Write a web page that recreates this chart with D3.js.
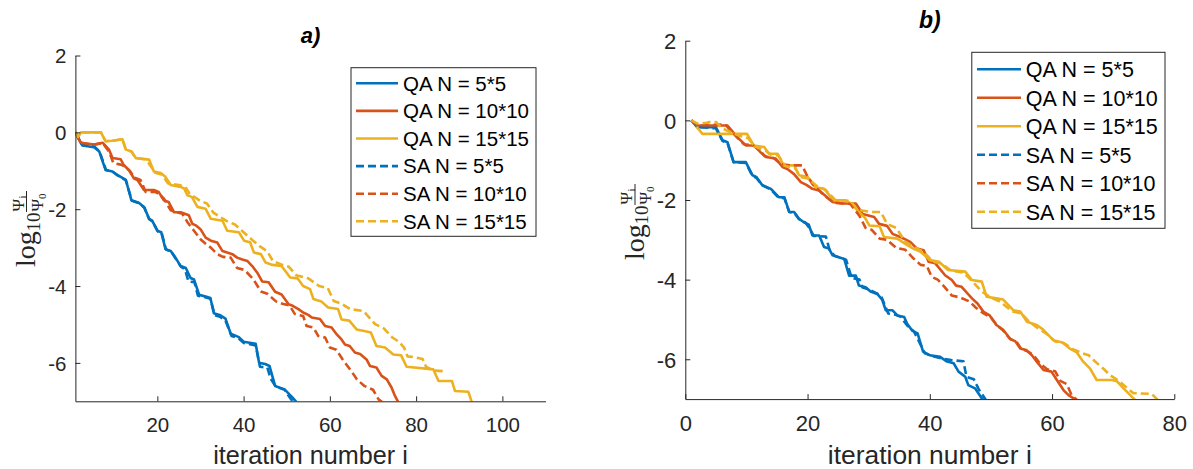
<!DOCTYPE html>
<html><head><meta charset="utf-8">
<script src="https://cdn.jsdelivr.net/npm/d3@7"></script>
<style>body{margin:0;background:#fff}svg{display:block}</style>
</head><body><svg id="c" width="1193" height="469"></svg>
<script>
// ---------- data ----------
const seriesNames = ["QA N = 5*5","QA N = 10*10","QA N = 15*15","SA N = 5*5","SA N = 10*10","SA N = 15*15"];
const seriesColors = ["#0072BD","#D95319","#EDB120","#0072BD","#D95319","#EDB120"];
const seriesDashed = [false,false,false,true,true,true];
const panelTitles = ["a)","b)"];
const xLabel = "iteration number i";
const yTicks = [-6,-4,-2,0,2];
const yTickLabels = ["-6","-4","-2","0","2"];
const aXTicks = [20,40,60,80,100];
const aXTickLabels = ["20","40","60","80","100"];
const bXTicks = [0,20,40,60,80];
const bXTickLabels = ["0","20","40","60","80"];

// panel a) : [iteration, log10(psi_i/psi_0)]
const aQA5 = [[1,0],[2.6,-0.34],[5.3,-0.39],[6.5,-0.49],[8,-0.98],[9.6,-1.02],[10.7,-1.11],[12.7,-1.24],[14,-1.77],[15.7,-1.83],[16.9,-1.94],[18.1,-2.25],[18.8,-2.3],[20,-2.56],[20.9,-2.6],[21.9,-3.04],[23.1,-3.09],[24.2,-3.26],[25.4,-3.48],[26.6,-3.53],[27.7,-3.79],[28.5,-3.83],[29.7,-4.23],[31.2,-4.27],[32.3,-4.31],[33.1,-4.71],[34.6,-4.76],[35.8,-4.85],[37,-5.24],[38.9,-5.33],[40,-5.45],[42.8,-5.5],[43.6,-6.0],[45,-6.03],[46,-6.08],[47.3,-6.6],[49.5,-6.69],[51.3,-6.9],[52.5,-7.05]];
const aQA10 = [[1,0],[2.2,-0.27],[5.3,-0.32],[7.3,-0.27],[8.8,-0.45],[9.6,-0.67],[11.5,-0.7],[12.2,-0.85],[13.4,-0.98],[14.6,-1.2],[15.4,-1.24],[16.9,-1.5],[19.2,-1.5],[20.3,-1.55],[21.5,-1.77],[22.6,-1.81],[23.9,-2.08],[25.4,-2.08],[27.3,-2.16],[28.1,-2.38],[28.9,-2.42],[30,-2.52],[31.2,-2.74],[32.4,-2.82],[33.9,-2.87],[35.1,-3.09],[36.2,-3.13],[37.4,-3.17],[38.5,-3.26],[39.7,-3.31],[40.9,-3.35],[42,-3.48],[43.2,-3.66],[44.3,-3.88],[45.8,-3.9],[47.3,-4.15],[48.8,-4.22],[50.4,-4.47],[51.5,-4.52],[52.7,-4.6],[53.8,-4.69],[55,-4.75],[55.8,-4.82],[57.7,-4.86],[58.9,-5.04],[60.4,-5.08],[61.6,-5.26],[62.7,-5.39],[63.5,-5.52],[64.6,-5.56],[65.8,-5.73],[67,-5.77],[68.5,-5.91],[69.3,-6.08],[70.8,-6.12],[72,-6.34],[73.2,-6.43],[74.3,-6.64],[75.1,-6.86],[76,-7.05]];
const aQA15 = [[1,0],[1.6,-0.12],[2.3,0],[6.9,0],[8,-0.23],[9.5,-0.22],[11.9,-0.18],[12.7,-0.45],[14,-0.5],[15,-0.67],[18.1,-0.71],[19.2,-1.02],[20.8,-1.06],[21.8,-1.15],[23.1,-1.37],[25.4,-1.42],[26.2,-1.46],[27,-1.64],[28,-1.68],[29.3,-1.94],[31.2,-1.99],[32.4,-2.25],[35.1,-2.3],[36.2,-2.56],[38.9,-2.6],[40.1,-2.82],[41.5,-2.86],[42.4,-3.13],[44,-3.17],[45.1,-3.39],[46.7,-3.45],[48.8,-3.48],[50.8,-3.78],[52.5,-3.8],[53.8,-4.0],[55.4,-4.08],[56.2,-4.34],[58,-4.4],[59.6,-4.56],[61.9,-4.6],[62.7,-4.87],[64.5,-4.9],[66.2,-5.13],[68,-5.17],[69.5,-5.21],[70.8,-5.56],[72.8,-5.6],[74.7,-5.78],[76.5,-5.8],[77.8,-6.1],[84,-6.17],[85.2,-6.47],[88.3,-6.47],[89,-6.73],[92.1,-6.75],[93,-7.05]];
const aSA5 = [[1,0],[2.4,-0.3],[5.3,-0.36],[6.6,-0.5],[8.1,-0.98],[9.6,-1.02],[10.8,-1.12],[12.7,-1.25],[14.1,-1.78],[15.7,-1.84],[17,-1.96],[18.1,-2.26],[18.9,-2.32],[20.1,-2.58],[21,-2.62],[22,-3.05],[23.2,-3.1],[24.2,-3.28],[25.5,-3.5],[26.4,-3.56],[27.2,-3.88],[28.6,-3.9],[29.4,-4.25],[31.3,-4.3],[32.3,-4.33],[33.3,-4.76],[34.5,-4.8],[35.8,-4.9],[37.2,-5.3],[38.8,-5.36],[40,-5.48],[42.8,-5.55],[43.8,-6.1],[45.5,-6.12],[46.3,-6.42],[47.5,-6.62],[49.5,-6.7],[51,-6.95],[52,-7.05]];
const aSA10 = [[1,0],[2.2,-0.27],[5.3,-0.32],[7.3,-0.28],[8.8,-0.5],[9.8,-0.8],[11.5,-0.84],[12.3,-0.88],[13.6,-1.0],[14.7,-1.18],[16.1,-1.24],[17.3,-1.55],[19.5,-1.55],[20.3,-1.6],[21.5,-1.72],[23.1,-2.03],[24.2,-2.07],[25.8,-2.12],[27,-2.34],[28.5,-2.56],[30,-2.78],[31.2,-2.9],[32.4,-3.0],[33.9,-3.17],[35.2,-3.24],[37,-3.26],[38.5,-3.53],[40.2,-3.58],[42,-3.79],[42.8,-3.92],[44,-4.14],[45.5,-4.2],[47.5,-4.4],[49.2,-4.47],[50.6,-4.5],[51.9,-4.73],[53.8,-4.78],[54.6,-5.04],[56.2,-5.08],[57.3,-5.3],[58.9,-5.34],[60,-5.6],[61.5,-5.66],[62.9,-5.9],[64.7,-6.17],[66.3,-6.43],[68,-6.6],[70,-6.7],[71.3,-6.95],[72.5,-7.05]];
const aSA15 = [[1,0],[1.6,-0.12],[2.3,0],[6.9,0],[8,-0.23],[9.5,-0.22],[11.9,-0.18],[12.7,-0.45],[14,-0.5],[15,-0.67],[17,-0.7],[17.9,-0.79],[19.5,-1.05],[21,-1.1],[22.5,-1.33],[25,-1.37],[26.5,-1.42],[27.5,-1.6],[29.9,-1.78],[31.5,-1.85],[33,-2.09],[36.1,-2.31],[38,-2.4],[40,-2.6],[42,-2.8],[43.7,-2.96],[45.5,-3.1],[46.8,-3.35],[49,-3.45],[50.5,-3.5],[52.2,-3.72],[55,-3.8],[57.5,-4.0],[59.5,-4.05],[60.9,-4.39],[62.5,-4.45],[64.7,-4.6],[67.8,-4.65],[70.5,-4.99],[72.5,-5.1],[74.5,-5.34],[76,-5.45],[77.2,-5.6],[78,-5.83],[80,-5.86],[81.5,-5.9],[82.3,-6.1],[84,-6.2],[87,-6.22]];

// panel b)
const bQA5 = [[1,0],[2,-0.17],[5,-0.17],[6.1,-0.5],[6.9,-0.55],[7.9,-1.05],[9.9,-1.05],[11,-1.38],[11.6,-1.42],[12.6,-1.63],[14,-1.72],[15.3,-1.93],[16.2,-1.93],[17,-2.3],[17.8,-2.3],[18.6,-2.47],[19.4,-2.56],[20.2,-2.62],[20.8,-2.89],[21.9,-2.89],[22.7,-3.18],[23.5,-3.22],[24.1,-3.39],[26,-3.48],[26.8,-3.9],[27.9,-3.9],[28.4,-4.15],[29.5,-4.19],[30.3,-4.3],[31.4,-4.36],[32.2,-4.5],[32.8,-4.77],[33.9,-4.77],[34.7,-4.9],[35.8,-4.94],[36.3,-5.11],[37.1,-5.28],[38,-5.35],[38.9,-5.81],[40,-5.9],[41.7,-5.94],[42.7,-6.05],[43.9,-6.1],[44.7,-6.31],[45.8,-6.44],[46.3,-6.65],[47.4,-6.73],[48.5,-6.98],[49,-7.05]];
const bQA10 = [[1,0],[2,-0.13],[6.9,-0.13],[8.5,-0.42],[9.9,-0.63],[11.2,-0.63],[12.3,-0.8],[13.2,-0.92],[14.8,-0.96],[15.9,-1.17],[16.7,-1.22],[17.8,-1.35],[18.9,-1.55],[19.8,-1.62],[20.8,-1.72],[21.9,-1.76],[23.2,-1.93],[24.1,-2.05],[25.7,-2.09],[27.9,-2.09],[29,-2.35],[30.9,-2.43],[31.7,-2.6],[33,-2.65],[33.9,-2.85],[35.2,-2.93],[36.8,-3.05],[37.9,-3.22],[39,-3.26],[39.8,-3.55],[40.9,-3.59],[42.5,-3.89],[43.6,-4.01],[44.3,-4.15],[45.2,-4.18],[46.9,-4.47],[47.8,-4.6],[48.8,-4.81],[49.8,-4.9],[50.9,-5.14],[52,-5.26],[53.1,-5.48],[54,-5.55],[54.8,-5.73],[55.8,-5.77],[56.7,-5.9],[57.5,-6.06],[58.6,-6.27],[59.9,-6.31],[61,-6.57],[61.9,-6.78],[62.7,-6.9],[63.5,-6.98],[64,-7.05]];
const bQA15 = [[1,0],[2.8,-0.34],[6.9,-0.34],[8.8,-0.34],[10.1,-0.34],[11.2,-0.63],[12.9,-0.67],[13.7,-0.84],[15.1,-0.84],[16.1,-1.13],[17.8,-1.13],[18.6,-1.38],[20,-1.42],[21.3,-1.68],[22.7,-1.72],[24.3,-2.01],[26.2,-2.01],[27.2,-2.1],[28.4,-2.3],[29.4,-2.45],[30.1,-2.64],[31.8,-2.66],[32.5,-2.93],[34.7,-2.97],[36,-3.1],[37.3,-3.22],[38.5,-3.3],[40,-3.51],[41.5,-3.55],[43,-3.76],[45.8,-3.8],[46.9,-4.01],[48.5,-4.05],[49.3,-4.43],[50.9,-4.47],[52,-4.5],[53.7,-4.77],[54.8,-4.8],[55.9,-5.06],[57.5,-5.14],[58.5,-5.25],[60.2,-5.52],[61.7,-5.58],[62.9,-5.73],[64,-5.82],[65.1,-6.06],[66.2,-6.23],[67.3,-6.52],[69.8,-6.52],[70.6,-6.55],[71.7,-6.73],[72.8,-6.9],[73.3,-6.98],[73.8,-7.05]];
const bSA5 = [[1,0],[2,-0.17],[5,-0.2],[6.1,-0.52],[6.9,-0.57],[7.9,-1.05],[9.9,-1.07],[11,-1.4],[11.6,-1.44],[12.6,-1.63],[14,-1.74],[15.3,-1.95],[16.2,-1.95],[17,-2.3],[17.8,-2.32],[18.6,-2.48],[19.6,-2.56],[20.3,-2.7],[21,-2.9],[23,-2.92],[23.6,-3.25],[24.4,-3.4],[26.3,-3.5],[27.2,-3.95],[28.5,-4.0],[29,-4.2],[30,-4.24],[31,-4.32],[32,-4.4],[33.2,-4.85],[34.4,-4.88],[35.2,-4.93],[36.3,-5.15],[37.4,-5.3],[39.2,-5.85],[40.5,-5.92],[42,-5.98],[43.5,-6.02],[45.5,-6.05],[46,-6.44],[47.2,-6.5],[48,-6.75],[49.3,-7.05]];
const bSA10 = [[1,0],[2,-0.13],[6.5,-0.1],[8.3,-0.4],[9.6,-0.6],[11,-0.62],[12.2,-0.75],[13,-0.9],[14.5,-0.95],[15.6,-1.1],[17.2,-1.13],[19.1,-1.13],[19.8,-1.35],[20.8,-1.6],[21.8,-1.75],[23,-1.92],[24.3,-2.07],[27,-2.1],[28.5,-2.4],[29.5,-2.7],[30.5,-2.75],[31.8,-2.97],[33,-3.0],[34.5,-3.2],[36,-3.25],[37.2,-3.45],[38.5,-3.63],[39.5,-3.65],[40.3,-3.93],[41.3,-4.0],[42.4,-4.18],[43.6,-4.4],[45,-4.45],[46.5,-4.55],[47.5,-4.7],[48.8,-4.85],[50,-4.95],[51,-5.15],[52,-5.28],[53.2,-5.5],[54.2,-5.56],[55,-5.75],[56,-5.8],[57,-5.9],[58,-6.1],[59.2,-6.25],[60.5,-6.3],[61.4,-6.55],[62.4,-6.62],[63.2,-6.9],[64.3,-7.05]];
const bSA15 = [[1,0],[2,-0.08],[3.5,-0.06],[4,-0.04],[5,-0.04],[6,-0.2],[7.5,-0.3],[8.8,-0.38],[10.3,-0.45],[11.3,-0.65],[13,-0.75],[14,-0.86],[15.2,-0.88],[16.4,-1.15],[18,-1.2],[18.8,-1.42],[20.2,-1.47],[21.5,-1.65],[23,-1.75],[24.5,-2.0],[27,-2.02],[28.2,-2.25],[30.5,-2.3],[32,-2.3],[33,-2.6],[34.5,-2.7],[36,-3.05],[37.5,-3.2],[39,-3.3],[40.5,-3.55],[42,-3.6],[43.5,-3.78],[45.5,-3.82],[47,-4.05],[48.5,-4.3],[50,-4.45],[51.5,-4.55],[53.5,-4.8],[55,-4.85],[56.2,-5.05],[57.5,-5.2],[59,-5.35],[60.5,-5.55],[62,-5.6],[63.5,-5.75],[65,-5.85],[66,-5.9],[67,-6.05],[68.5,-6.25],[69.5,-6.4],[71,-6.55],[72.5,-6.75],[73.3,-6.85],[76.3,-6.87],[77.5,-7.05]];

// ---------- drawing ----------
const svg = d3.select("#c");
const AX = "#262626";
const SANS = "'Liberation Sans', Arial, Helvetica, sans-serif";
const SERIF = "'Liberation Serif', 'Times New Roman', serif";
const DASH = "8,4";

const panels = [
  {id:"a", title:panelTitles[0], xDomain:[1,110], left:75.4, right:545.5, top:55.5, bottom:401.3,
   xTicks:aXTicks, xTickLabels:aXTickLabels, data:[aQA5,aQA10,aQA15,aSA5,aSA10,aSA15],
   tickFs:20.5, labelFs:25.2, titleFs:22, titleY:43,
   leg:{x0:351, x1:536, y0:67.7, y1:236.3, row0:83.3, dy:27.6, lx0:356, lx1:398, tx:403, fs:20.5},
   ylab:{bx:35, by:267}},
  {id:"b", title:panelTitles[1], xDomain:[0,80], left:685.3, right:1174.3, top:40.7, bottom:399.1,
   xTicks:bXTicks, xTickLabels:bXTickLabels, data:[bQA5,bQA10,bQA15,bSA5,bSA10,bSA15],
   tickFs:22, labelFs:26.4, titleFs:23, titleY:28,
   leg:{x0:971.8, x1:1165, y0:52.3, y1:228.3, row0:69.3, dy:28.5, lx0:977, lx1:1021, tx:1025.7, fs:21.5},
   ylab:{bx:643.5, by:260}}
];

panels.forEach(p => {
  const x = d3.scaleLinear().domain(p.xDomain).range([p.left, p.right]);
  const y = d3.scaleLinear().domain([-7, 2]).range([p.bottom, p.top]);
  const g = svg.append("g");

  g.append("clipPath").attr("id", "clip" + p.id).append("rect")
    .attr("x", p.left).attr("y", p.top).attr("width", p.right - p.left).attr("height", p.bottom - p.top);

  const line = d3.line().x(d => x(d[0])).y(d => y(d[1]));
  const lg = g.append("g").attr("clip-path", `url(#clip${p.id})`);
  p.data.forEach((s, k) => {
    lg.append("path").datum(s).attr("d", line)
      .attr("fill", "none").attr("stroke", seriesColors[k]).attr("stroke-width", 2.6)
      .attr("stroke-linejoin", "round")
      .attr("stroke-dasharray", seriesDashed[k] ? DASH : null);
  });

  // axes
  const xa = g.append("g").attr("transform", `translate(0,${p.bottom})`)
    .call(d3.axisBottom(x).tickValues(p.xTicks).tickFormat((d, i) => p.xTickLabels[i])
      .tickSizeInner(-5).tickSizeOuter(0).tickPadding(16));
  const ya = g.append("g").attr("transform", `translate(${p.left},0)`)
    .call(d3.axisLeft(y).tickValues(yTicks).tickFormat((d, i) => yTickLabels[i])
      .tickSizeInner(-5).tickSizeOuter(0).tickPadding(9));
  [xa, ya].forEach(a => {
    a.style("color", AX).attr("font-family", SANS).attr("font-size", p.tickFs);
    a.selectAll("text").attr("fill", AX);
  });
  ya.selectAll("text").attr("dy", "0.36em");

  // x label
  g.append("text").attr("x", (p.left + p.right) / 2).attr("y", 464)
    .attr("text-anchor", "middle").attr("font-family", SANS).attr("font-size", p.labelFs)
    .attr("fill", AX).text(xLabel);

  // title
  g.append("text").attr("x", (p.left + p.right) / 2).attr("y", p.titleY)
    .attr("text-anchor", "middle").attr("font-family", SANS).attr("font-size", p.titleFs)
    .attr("font-weight", "bold").attr("font-style", "italic").attr("fill", "#000").text(p.title);

  // y label: log10 (Psi_i / Psi_0)
  const yl = g.append("g").attr("transform", `translate(${p.ylab.bx},${p.ylab.by}) rotate(-90)`)
    .attr("font-family", SERIF).attr("fill", AX);
  yl.append("text").attr("x", 0).attr("y", 0).attr("font-size", 28).text("log");
  yl.append("text").attr("x", 35.5).attr("y", 4.5).attr("font-size", 19).text("10");
  yl.append("line").attr("x1", 55).attr("x2", 76).attr("y1", -8.5).attr("y2", -8.5)
    .attr("stroke", AX).attr("stroke-width", 1);
  yl.append("text").attr("x", 55.5).attr("y", -11.5).attr("font-size", 17).text("Ψ");
  yl.append("text").attr("x", 68.5).attr("y", -9).attr("font-size", 11).text("i");
  yl.append("text").attr("x", 55.5).attr("y", 7.5).attr("font-size", 17).text("Ψ");
  yl.append("text").attr("x", 68).attr("y", 10.5).attr("font-size", 11).text("0");

  // legend
  const L = p.leg;
  const leg = g.append("g");
  leg.append("rect").attr("x", L.x0).attr("y", L.y0).attr("width", L.x1 - L.x0).attr("height", L.y1 - L.y0)
    .attr("fill", "#fff").attr("stroke", AX).attr("stroke-width", 1);
  seriesNames.forEach((name, k) => {
    const ry = L.row0 + k * L.dy;
    leg.append("line").attr("x1", L.lx0).attr("x2", L.lx1).attr("y1", ry).attr("y2", ry)
      .attr("stroke", seriesColors[k]).attr("stroke-width", 2.6)
      .attr("stroke-dasharray", seriesDashed[k] ? DASH : null);
    leg.append("text").attr("x", L.tx).attr("y", ry).attr("dy", "0.36em")
      .attr("font-family", SANS).attr("font-size", L.fs).attr("fill", "#000").text(name);
  });
});
</script></body></html>
